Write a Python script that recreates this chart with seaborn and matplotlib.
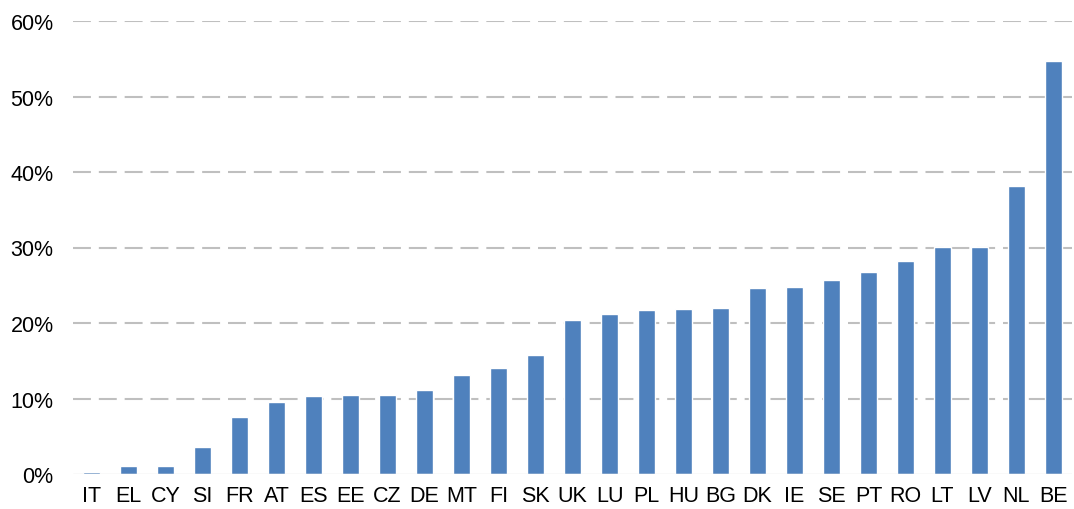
import matplotlib
matplotlib.use("Agg")
import matplotlib.pyplot as plt
import seaborn as sns
import pandas as pd
from matplotlib.ticker import FuncFormatter

countries = ["IT", "EL", "CY", "SI", "FR", "AT", "ES", "EE", "CZ", "DE", "MT", "FI", "SK",
             "UK", "LU", "PL", "HU", "BG", "DK", "IE", "SE", "PT", "RO", "LT", "LV", "NL", "BE"]
values = [0.2, 1.0, 1.0, 3.6, 7.5, 9.6, 10.3, 10.5, 10.5, 11.1, 13.1, 14.0, 15.8,
          20.4, 21.2, 21.7, 21.9, 22.0, 24.7, 24.8, 25.7, 26.7, 28.2, 30.1, 30.1, 38.2, 54.7]
yticks = [0, 10, 20, 30, 40, 50, 60]

sns.set_theme(style="white")
plt.rcParams["font.family"] = ["Liberation Sans", "DejaVu Sans"]

df = pd.DataFrame({"country": countries, "value": values})

fig = plt.figure(figsize=(10.74, 5.10), dpi=100)
ax = fig.add_axes([73 / 1074, 1 - 475 / 510, (1072 - 73) / 1074, (475 - 22) / 510])

sns.barplot(data=df, x="country", y="value", color="#4F81BD", saturation=1,
            width=0.45, ax=ax, zorder=3)

ax.set_ylim(0, 60)
ax.set_xlim(-0.5, len(countries) - 0.5)
ax.set_yticks(yticks)
ax.yaxis.set_major_formatter(FuncFormatter(lambda v, p: f"{int(v)}%"))
for y in yticks[1:]:
    ax.axhline(y, color="#BFBFBF", linewidth=1.5, dashes=(8.6, 3.8), zorder=1)
ax.axhline(0, color="#D0D0D0", linewidth=0.9, zorder=4)

for s in ax.spines.values():
    s.set_visible(False)
ax.tick_params(axis="both", length=0, labelsize=15.5, colors="#000000")
ax.tick_params(axis="y", pad=14)
ax.tick_params(axis="x", pad=8)
ax.set_xlabel("")
ax.set_ylabel("")
ax.grid(False)

fig.savefig("out.png", dpi=100)
